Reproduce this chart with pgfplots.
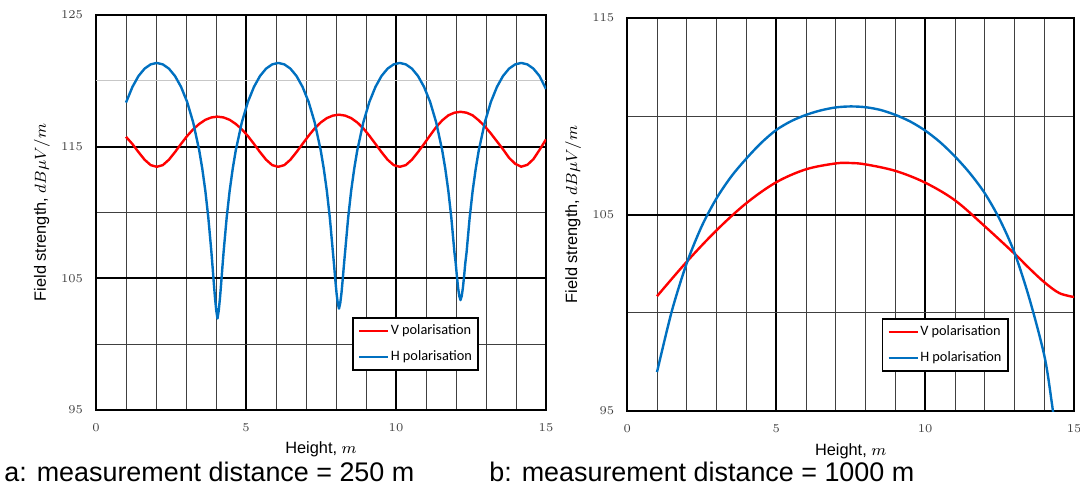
\documentclass[border=0pt]{standalone}
\usepackage{pgfplots}
\pgfplotsset{compat=1.18}
\usepackage{fontspec}
\setmainfont{Liberation Sans}
\newfontfamily\legendfont{Carlito}
\definecolor{vred}{RGB}{255,0,0}
\definecolor{hblue}{RGB}{0,112,192}
\pgfplotsset{
  myaxis/.style={
    scale only axis,
    xmin=0, xmax=15,
    xtick={0,5,10,15},
    minor x tick num=4,
    grid=both,
    major grid style={black, line width=1bp},
    minor grid style={black!75, line width=0.5bp},
    axis line style={black, line width=1.1bp},
    major tick length=0pt, minor tick length=0pt,
    tick label style={font=\fontsize{6.5}{7}\selectfont, text=black!75, inner sep=0pt},
    xticklabel style={yshift=-6.5bp},
    yticklabel style={xshift=-6.3bp},
    label style={font=\fontsize{8.2}{10}\selectfont},
    xlabel={Height, $m$},
    ylabel={Field strength, $dB\mu V/m$},
    legend style={at={(0.569,0.10)}, anchor=south west, draw=black, line width=0.9bp,
      fill=white, inner xsep=2.5bp, inner ysep=2.4bp, row sep=5.2bp,
      font=\legendfont\fontsize{7.2}{8}\selectfont, nodes={inner sep=0.7bp}},
    legend cell align=left,
    legend image code/.code={\draw[##1, line width=1.2bp] (0bp,0bp) -- (14.5bp,0bp);},
    vstyle/.style={vred, line width=1.2bp, line join=round, mark=none},
    hstyle/.style={hblue, line width=1.2bp, line join=round, mark=none},
  }
}
\begin{document}
\begin{tikzpicture}
\useasboundingbox (0,0) rectangle (540bp,-245.5bp);
% ---------------- (a) 250 m ----------------
\begin{axis}[myaxis,
  at={(48bp,-205bp)}, anchor=south west,
  width=225bp, height=197.5bp,
  ymin=95, ymax=125,
  ytick={95,105,115,125},
  minor ytick={100,110},
  extra y ticks={120}, extra y tick labels={},
  extra y tick style={grid=major, major grid style={black!22, line width=0.6bp}},
  xlabel style={at={(axis description cs:0.5,-0.111)}, anchor=base, inner sep=0pt},
  ylabel style={at={(axis description cs:-0.12,0.5)}, anchor=center, inner sep=0pt},
]
\addplot[vstyle] coordinates {
(1.00,115.75)(1.215,115.2)(1.4175,114.585)(1.62,114.01)(1.8225,113.60)(2.025,113.47)
(2.2275,113.60)(2.43,114.01)(2.6325,114.585)(2.835,115.21)(3.0375,115.81)(3.24,116.32)
(3.4425,116.73)(3.645,117.04)(3.8475,117.22)(4.05,117.28)(4.2525,117.22)(4.455,117.04)
(4.6575,116.73)(4.86,116.32)(5.0625,115.81)(5.265,115.21)(5.4675,114.585)(5.67,114.01)
(5.8725,113.60)(6.075,113.47)(6.2775,113.60)(6.48,114.01)(6.6825,114.585)(6.885,115.21)
(7.0875,115.83)(7.29,116.39)(7.4925,116.84)(7.695,117.17)(7.8975,117.36)(8.1,117.43)
(8.3025,117.36)(8.505,117.17)(8.7075,116.84)(8.91,116.39)(9.1125,115.83)(9.315,115.21)
(9.5175,114.585)(9.72,114.01)(9.9225,113.60)(10.125,113.47)(10.3275,113.60)(10.53,114.01)
(10.7325,114.585)(10.935,115.21)(11.1375,115.86)(11.34,116.49)(11.5425,117.00)(11.745,117.38)
(11.9475,117.58)(12.15,117.65)(12.3525,117.58)(12.555,117.38)(12.7575,117.00)(12.96,116.55)
(13.1625,116.0)(13.365,115.4)(13.5675,114.8)(13.77,114.15)(13.9725,113.7)(14.175,113.48)
(14.3775,113.62)(14.58,114.05)(14.7825,114.75)(14.985,115.5)(15,115.55)
};
\addlegendentry{V polarisation}
\addplot[hstyle] coordinates {
(1.00,118.35)(1.215,119.54)(1.4175,120.37)(1.62,120.93)(1.8225,121.25)(2.025,121.36)
(2.2275,121.25)(2.43,120.93)(2.6325,120.37)(2.835,119.54)(3.0375,118.40)(3.24,116.84)
(3.4425,114.70)(3.54375,113.31)(3.645,111.64)(3.74625,109.56)(3.8475,106.98)(3.888,105.81)
(3.9285,104.60)(3.969,103.46)(4.0095,102.55)(4.05,101.95)(4.0905,102.55)(4.131,103.46)
(4.1715,104.60)(4.212,105.81)(4.2525,106.98)(4.35375,109.56)(4.455,111.64)(4.55625,113.31)
(4.6575,114.70)(4.86,116.84)(5.0625,118.40)(5.265,119.54)(5.4675,120.37)(5.67,120.93)
(5.8725,121.25)(6.075,121.36)(6.2775,121.25)(6.48,120.93)(6.6825,120.37)(6.885,119.54)
(7.0875,118.40)(7.29,116.84)(7.4925,114.70)(7.59375,113.31)(7.695,111.64)(7.79625,109.56)
(7.8975,106.98)(7.938,105.95)(7.9785,104.85)(8.019,103.85)(8.0595,103.1)(8.1,102.7)
(8.1405,103.1)(8.181,103.85)(8.2215,104.85)(8.262,105.95)(8.3025,106.98)(8.40375,109.56)
(8.505,111.64)(8.60625,113.31)(8.7075,114.70)(8.91,116.84)(9.1125,118.40)(9.315,119.54)
(9.5175,120.37)(9.72,120.93)(9.9225,121.25)(10.125,121.36)(10.3275,121.25)(10.53,120.93)
(10.7325,120.37)(10.935,119.54)(11.1375,118.40)(11.34,116.84)(11.5425,114.70)(11.64375,113.31)
(11.745,111.64)(11.84625,109.56)(11.9475,106.98)(11.988,106.2)(12.0285,105.2)(12.069,104.3)
(12.1095,103.65)(12.15,103.35)(12.1905,103.65)(12.231,104.3)(12.2715,105.2)(12.312,106.2)
(12.3525,106.98)(12.45375,109.56)(12.555,111.64)(12.65625,113.31)(12.7575,114.70)(12.96,116.84)
(13.1625,118.40)(13.365,119.54)(13.5675,120.37)(13.77,120.93)(13.9725,121.25)(14.175,121.36)
(14.3775,121.25)(14.58,120.93)(14.7825,120.37)(14.985,119.45)(15,119.38)
};
\addlegendentry{H polarisation}
\end{axis}
% ---------------- (b) 1000 m ----------------
\begin{axis}[myaxis,
  at={(313.6bp,-205.5bp)}, anchor=south west,
  width=223.5bp, height=196.5bp,
  ymin=95, ymax=115,
  ytick={95,105,115},
  minor ytick={100,110},
  xlabel style={at={(axis description cs:0.5,-0.112)}, anchor=base, inner sep=0pt},
  ylabel style={at={(axis description cs:-0.121,0.5)}, anchor=center, inner sep=0pt},
]
\addplot[vstyle, smooth, tension=0.55] coordinates {
(1,100.84)(2,102.60)(3,104.20)(4,105.58)(5,106.64)(6,107.30)(7,107.60)(7.5,107.62)
(8,107.55)(9,107.22)(10,106.62)(11,105.72)(12,104.40)(13,103.00)(13.5,102.25)
(14,101.55)(14.5,101.0)(15,100.8)
};
\addlegendentry{V polarisation}
\addplot[hstyle, smooth, tension=0.5] coordinates {
(1,96.98)(1.5,100.1)(2,102.53)(2.5,104.4)(3,105.83)(3.5,106.95)(4,107.85)(4.5,108.65)
(5,109.3)(5.5,109.75)(6,110.07)(6.5,110.3)(7,110.45)(7.5,110.5)(8,110.46)(8.5,110.32)
(9,110.07)(9.5,109.73)(10,109.27)(10.5,108.68)(11,107.95)(11.5,107.1)(12,106.08)
(12.5,104.75)(13,103.04)(13.5,100.7)(14,97.8)(14.25,95.4)(14.5,92.5)
};
\addlegendentry{H polarisation}
\end{axis}
% ---------------- captions ----------------
\node[anchor=base west, inner sep=0pt, font=\fontsize{13.5}{16}\selectfont] at (2bp,-240.5bp) {a: measurement distance = 250 m};
\node[anchor=base west, inner sep=0pt, font=\fontsize{13.5}{16}\selectfont] at (244.5bp,-240.5bp) {b: measurement distance = 1000 m};
\end{tikzpicture}
\end{document}
